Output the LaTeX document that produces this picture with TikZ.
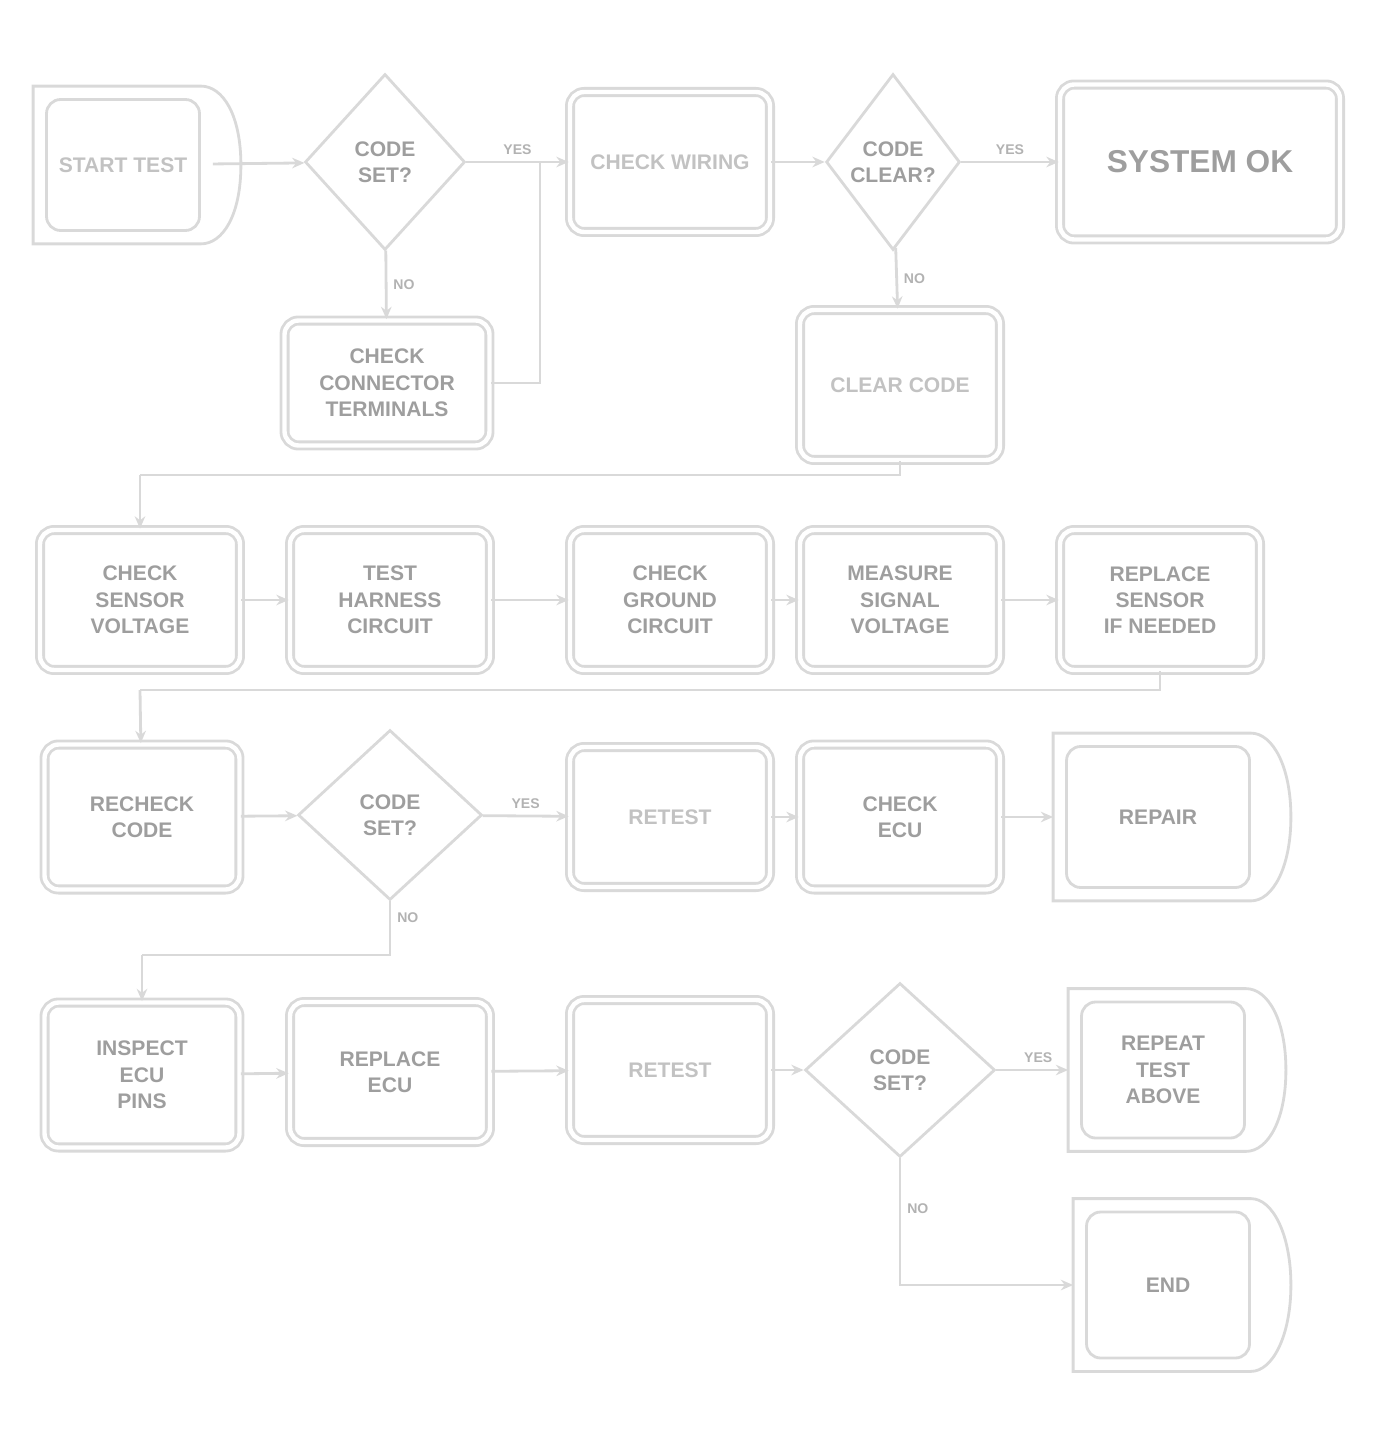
\documentclass[tikz,border=0pt]{standalone}
\usepackage{fontspec}
\setmainfont{Liberation Sans}
\usetikzlibrary{shapes.geometric,arrows.meta,calc}

\tikzset{
  line/.style={draw=black!15, line width=1.6pt},
  conn/.style={line, -{Stealth[length=7pt,width=6pt]}},
  card/.style={line, double=white, double distance=2.5pt, rounded corners=8pt,
    align=center, text=black!38, inner sep=4pt,
    font=\bfseries\fontsize{12}{15}\selectfont},
  tagcard/.style={line, rounded corners=8pt, align=center, text=black!38,
    inner sep=4pt, font=\bfseries\fontsize{12}{15}\selectfont},
  ask/.style={diamond, line, align=center, text=black!38, inner sep=1pt,
    font=\bfseries\fontsize{12}{15}\selectfont},
  lite/.style={text=black!24},
  ans/.style={text=black!30, font=\bfseries\footnotesize},
}
% outer outline of the tag shaped boxes
\newcommand{\tagline}[1]{
  \draw[line] ($(#1.north west)+(-12,-12)$) -- ($(#1.north east)+(0,-12)$)
    .. controls +(22,0) and +(0,-50) .. ($(#1.east)+(40,0)$)
    .. controls +(0,50) and +(22,0) .. ($(#1.south east)+(0,12)$)
    -- ($(#1.south west)+(-12,12)$) -- cycle;
}

\begin{document}
\begin{tikzpicture}[x=0.02cm, y=-0.02cm]
\useasboundingbox (0,0) rectangle (1377,1452);

% row 1
\node[tagcard, lite, minimum width=3.06cm, minimum height=2.62cm] (start) at (123,165) {START TEST};
\tagline{start}
\node[ask, minimum width=3.2cm, minimum height=3.52cm] (codeA) at (385,162) {CODE\\SET?};
\node[card, lite, minimum width=4cm, minimum height=2.8cm] (wiring) at (670,162) {CHECK WIRING};
\node[ask, minimum width=2.6cm, minimum height=3.52cm] (clear) at (893,162) {CODE\\CLEAR?};
\node[card, minimum width=5.6cm, minimum height=3.1cm, font=\bfseries\fontsize{18}{20}\selectfont] (ok) at (1200,162) {SYSTEM OK};

\node[card, minimum width=4.1cm, minimum height=2.5cm] (term) at (387,383) {CHECK\\CONNECTOR\\TERMINALS};
\node[card, lite, minimum width=4cm, minimum height=3cm] (clr) at (900,385) {CLEAR CODE};

% row 2
\node[card, minimum width=4cm, minimum height=2.8cm] (sensor) at (140,600) {CHECK\\SENSOR\\VOLTAGE};
\node[card, minimum width=4cm, minimum height=2.8cm] (harness) at (390,600) {TEST\\HARNESS\\CIRCUIT};
\node[card, minimum width=4cm, minimum height=2.8cm] (ground) at (670,600) {CHECK\\GROUND\\CIRCUIT};
\node[card, minimum width=4cm, minimum height=2.8cm] (signal) at (900,600) {MEASURE\\SIGNAL\\VOLTAGE};
\node[card, minimum width=4cm, minimum height=2.8cm] (swap) at (1160,600) {REPLACE\\SENSOR\\IF NEEDED};

% row 3
\node[card, minimum width=3.9cm, minimum height=2.9cm] (recheck) at (142,817) {RECHECK\\CODE};
\node[ask, minimum width=3.68cm, minimum height=3.4cm] (codeB) at (390,815) {CODE\\SET?};
\node[card, lite, minimum width=4cm, minimum height=2.8cm] (retestA) at (670,817) {RETEST};
\node[card, minimum width=4cm, minimum height=2.9cm] (ecu) at (900,817) {CHECK\\ECU};
\node[tagcard, minimum width=3.66cm, minimum height=2.82cm] (fix) at (1158,817) {REPAIR};
\tagline{fix}

% row 4
\node[card, minimum width=3.9cm, minimum height=2.9cm] (pins) at (142,1075) {INSPECT\\ECU\\PINS};
\node[card, minimum width=4cm, minimum height=2.8cm] (newecu) at (390,1072) {REPLACE\\ECU};
\node[card, lite, minimum width=4cm, minimum height=2.8cm] (retestB) at (670,1070) {RETEST};
\node[ask, minimum width=3.8cm, minimum height=3.48cm] (codeC) at (900,1070) {CODE\\SET?};
\node[tagcard, minimum width=3.26cm, minimum height=2.72cm] (repeat) at (1163,1070) {REPEAT\\TEST\\ABOVE};
\tagline{repeat}
\node[tagcard, minimum width=3.26cm, minimum height=2.92cm] (done) at (1168,1285) {END};
\tagline{done}

% joints
\coordinate (merge) at (540,162);
\coordinate (j1) at (140,475);
\coordinate (j2) at (140,690);
\coordinate (j3) at (142,955);

% connectors
\draw[conn, shorten <=0.24cm] (start) -- (codeA);
\draw[conn] (codeA) -- node[above, ans] {YES} (wiring);
\draw[conn] (codeA) -- node[right, ans] {NO} (term);
\draw[line] (term.east) -| (merge);
\draw[conn] (wiring) -- (clear);
\draw[conn] (clear) -- node[above, ans] {YES} (ok);
\draw[conn] (clear) -- node[right, ans] {NO} (clr);
\draw[line] (clr.south) |- (j1);
\draw[conn] (j1) -- (sensor);

\draw[conn] (sensor) -- (harness);
\draw[conn] (harness) -- (ground);
\draw[conn] (ground) -- (signal);
\draw[conn] (signal) -- (swap);
\draw[line] (swap.south) |- (j2);
\draw[conn] (j2) -- (recheck);

\draw[conn] (recheck) -- (codeB);
\draw[conn] (codeB) -- node[above, ans] {YES} (retestA);
\draw[conn] (retestA) -- (ecu);
\draw[conn, shorten >=0.24cm] (ecu) -- (fix);
\draw[line] (codeB.south) -- node[right, ans, pos=0.3] {NO} (codeB.south |- j3) -- (j3);
\draw[conn] (j3) -- (pins);

\draw[conn] (pins) -- (newecu);
\draw[conn] (newecu) -- (retestB);
\draw[conn] (retestB) -- (codeC);
\draw[conn, shorten >=0.24cm] (codeC) -- node[above, ans] {YES} (repeat);
\draw[conn, shorten >=0.24cm] (codeC.south) |- node[right, ans, pos=0.2] {NO} (done.west);
\end{tikzpicture}
\end{document}
